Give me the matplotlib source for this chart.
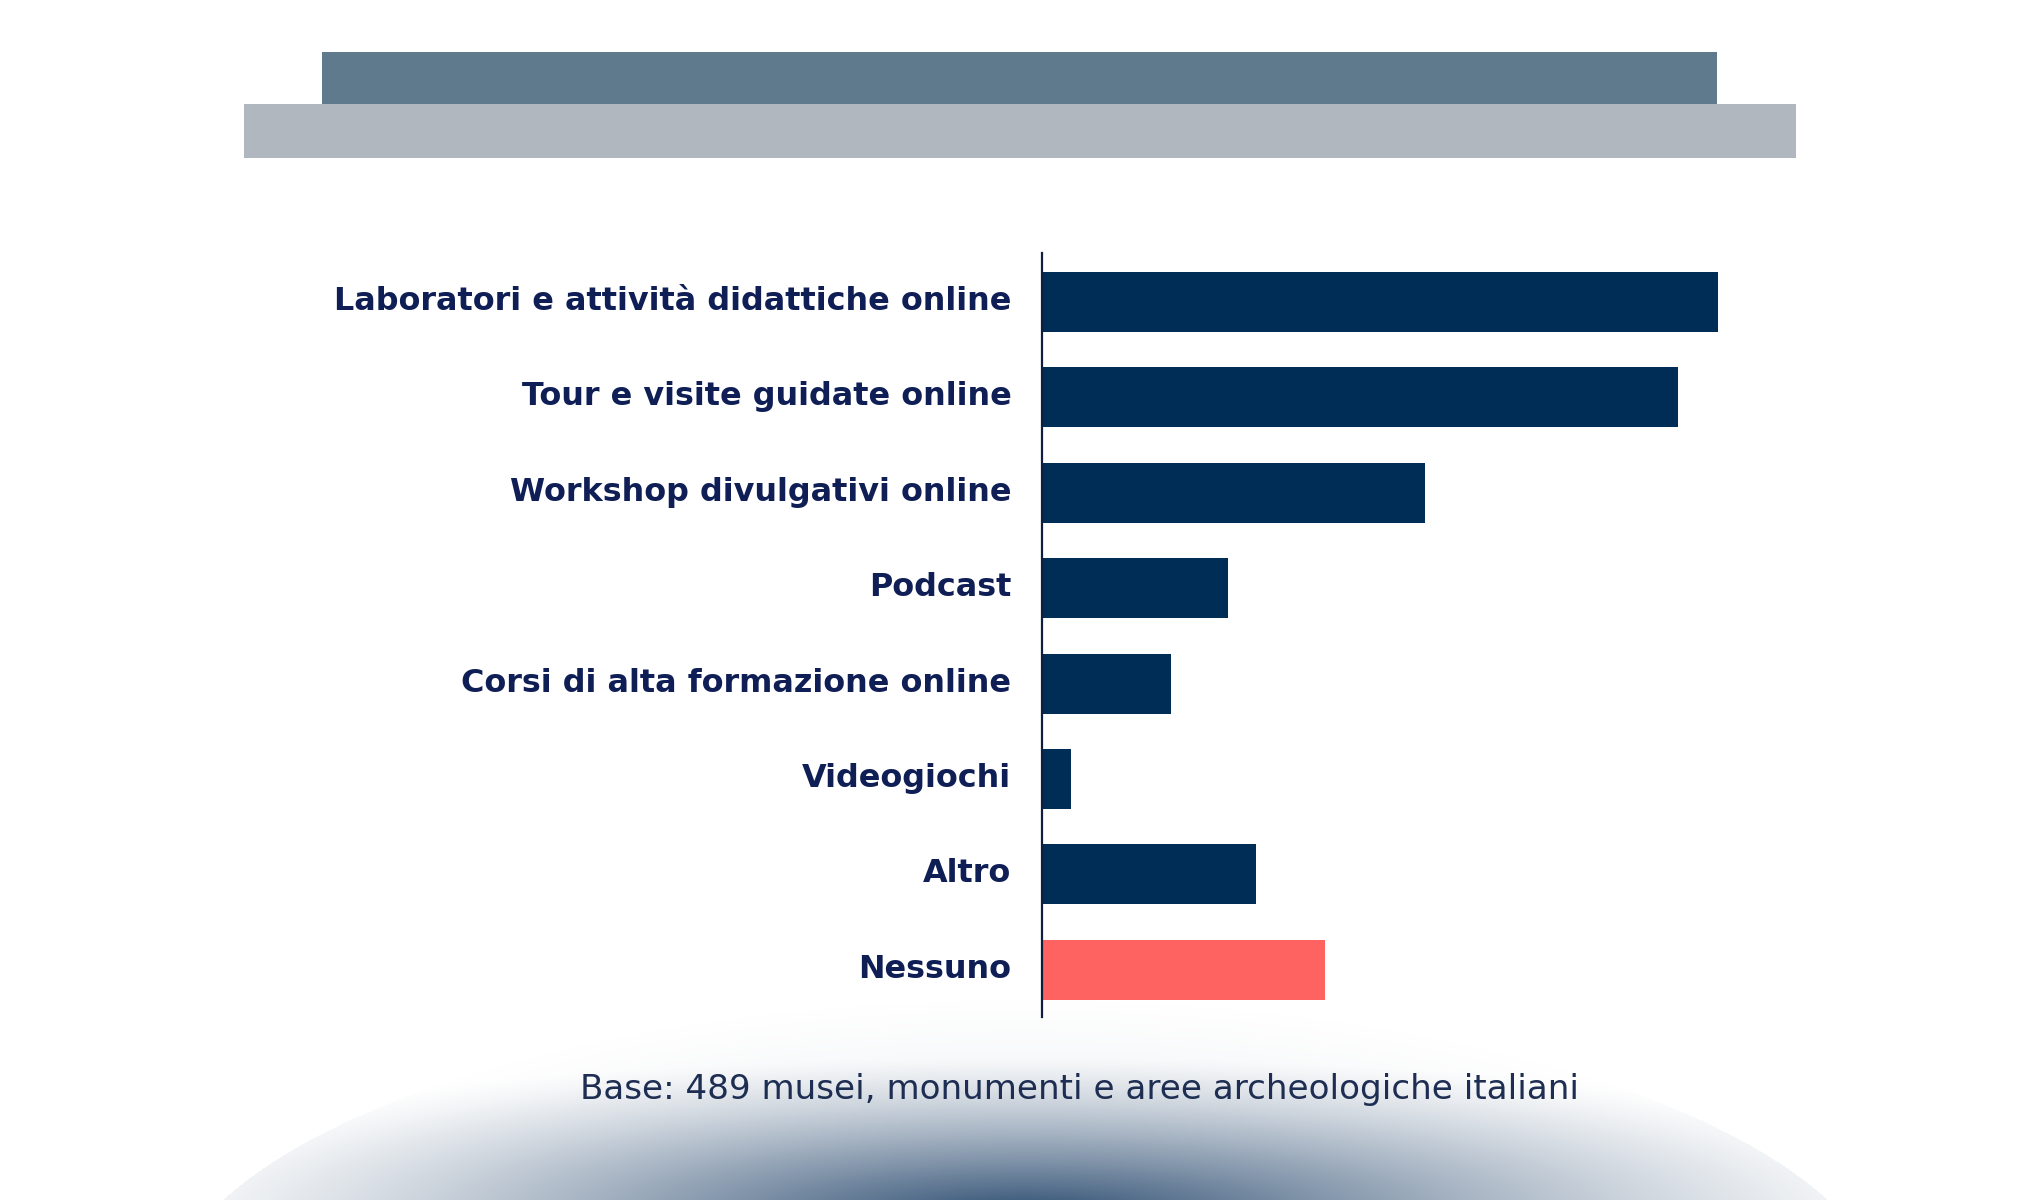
import numpy as np
import matplotlib
matplotlib.use("Agg")
import matplotlib.pyplot as plt
from matplotlib.patches import Rectangle
from matplotlib.transforms import ScaledTranslation

categories = [
    "Laboratori e attività didattiche online",
    "Tour e visite guidate online",
    "Workshop divulgativi online",
    "Podcast",
    "Corsi di alta formazione online",
    "Videogiochi",
    "Altro",
    "Nessuno",
]
values = [47.0, 44.2, 26.6, 12.9, 9.0, 2.0, 14.9, 19.7]
bar_colors = ["#002D55"] * 7 + ["#FF6361"]
footer = "Base: 489 musei, monumenti e aree archeologiche italiani"

W, H = 2040, 1200
fig = plt.figure(figsize=(W / 100, H / 100), dpi=100)
fig.patch.set_facecolor("white")

# background radial gradient at bottom
bg = fig.add_axes([0, 0, 1, 1], zorder=-5)
yy, xx = np.mgrid[0:H, 0:W]
edge = np.sqrt(((xx - 1025) / 866) ** 2 + ((yy - 1320) / 320) ** 2)
d2 = np.sqrt(((xx - 1025) / 920) ** 2 + ((yy - 1215) / 170) ** 2)
t = np.clip(1 - d2, 0, 1) ** 1.3
floor = 0.045 * np.clip((1 - edge) / 0.25, 0, 1)
t = np.maximum(t, floor)
t = np.where(edge <= 1.0, t, 0.0)
navy = np.array([0x2C, 0x4C, 0x70]) / 255.0
img = np.ones((H, W, 3)) * (1 - t[..., None]) + navy * t[..., None]
bg.imshow(img, extent=[0, W, H, 0], aspect="auto", interpolation="bilinear")
bg.set_xlim(0, W)
bg.set_ylim(H, 0)
bg.axis("off")

# header decoration
fig.patches.append(Rectangle((322 / W, 1 - 104 / H), (1717 - 322) / W, 52 / H,
                             transform=fig.transFigure, facecolor="#5E7A8C",
                             edgecolor="none", zorder=1))
fig.patches.append(Rectangle((244 / W, 1 - 158 / H), (1796 - 244) / W, 54 / H,
                             transform=fig.transFigure, facecolor="#B0B7BE",
                             edgecolor="none", zorder=1))

ax = fig.add_axes([1042 / W, 1 - 1016.5 / H, 719 / W, 763.5 / H])
ax.patch.set_alpha(0)
y = np.arange(len(categories))
ax.barh(y, values, height=0.63, color=bar_colors, zorder=2)
ax.set_xlim(0, 50)
ax.set_ylim(len(categories) - 0.51, -0.514)
ax.set_yticks(y)
labels = ax.set_yticklabels(categories, fontsize=22, fontweight="bold",
                            color="#0F1F56", family=["DejaVu Sans"])
ax.tick_params(axis="y", length=0, pad=22)
ax.set_xticks([])
for s in ["top", "right", "bottom"]:
    ax.spines[s].set_visible(False)
ax.spines["left"].set_color("#0D1E3F")
ax.spines["left"].set_linewidth(1.6)

ftxt = fig.text(1079 / W, 1 - 1099 / H, footer, ha="center", va="baseline",
                fontsize=22, color="#1E2D52", fontweight="normal",
                family=["DejaVu Sans"])

# fit text sizes to target widths
r = fig.canvas.get_renderer()
w0 = labels[0].get_window_extent(r).width
fs = 22 * 675 / w0
shift = ScaledTranslation(0, 4 / 100, fig.dpi_scale_trans)
for lb in labels:
    lb.set_fontsize(fs)
    lb.set_transform(lb.get_transform() + shift)
wf = ftxt.get_window_extent(r).width
ftxt.set_fontsize(22 * 998 / wf)

fig.savefig("out.png", dpi=100, facecolor="white")
